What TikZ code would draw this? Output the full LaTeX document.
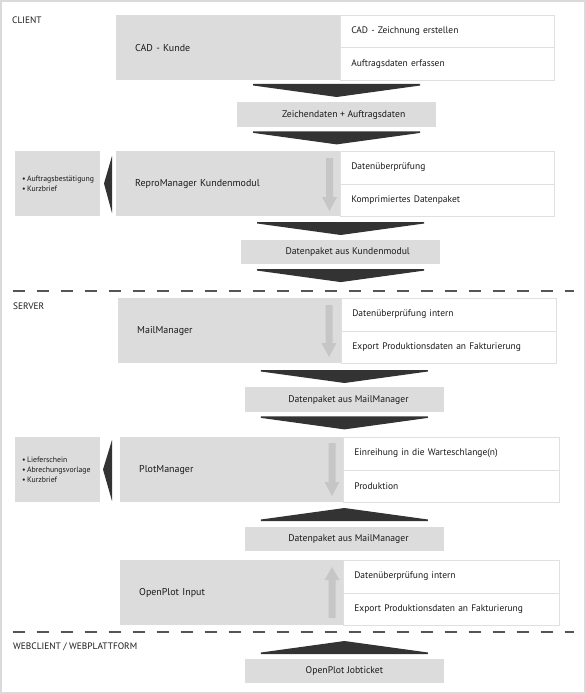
\documentclass[tikz,border=0pt]{standalone}
\usepackage{fontspec}
\setmainfont{PT Sans}
\definecolor{boxgray}{HTML}{DCDCDC}
\definecolor{arrowdark}{HTML}{333333}
\definecolor{palearrow}{HTML}{C6C6C6}
\definecolor{cellborder}{HTML}{E0E0E0}
\definecolor{framecol}{HTML}{DADADA}
\definecolor{dashcol}{HTML}{555555}
\definecolor{textcol}{HTML}{1A1A1A}
\begin{document}
\begin{tikzpicture}[x=1bp,y=-1bp,
  every node/.style={text=textcol},
  bigbox/.style={fill=boxgray, draw=none, anchor=north west, inner ysep=0pt,
    inner xsep=19bp, minimum height=65bp, align=left,
    font=\fontsize{10}{12}\selectfont},
  cell/.style={fill=white, draw=cellborder, line width=0.6bp, anchor=north west,
    inner ysep=0pt, inner xsep=11bp, minimum height=32.5bp, align=left,
    font=\fontsize{9.5}{11}\selectfont},
  midbox/.style={fill=boxgray, draw=none, anchor=north west, inner sep=0pt,
    font=\fontsize{9.7}{11}\selectfont},
  sidebox/.style={fill=boxgray, draw=none, anchor=north west, inner ysep=0pt,
    inner xsep=7bp, minimum height=65bp, text width=71bp, align=left,
    font=\fontsize{7.8}{9.8}\selectfont},
  section/.style={anchor=west, inner sep=0pt, font=\fontsize{9.4}{11}\selectfont},
  sep/.style={draw=dashcol, line width=1.8bp, dash pattern=on 12bp off 12bp},
  darrow/.pic={\fill[arrowdark] (-83.5,-13) -- (83.5,-13) -- (83.5,-11.5) -- (0,0) -- (-83.5,-11.5) -- cycle;},
  uarrow/.pic={\fill[arrowdark] (-83.5,13) -- (83.5,13) -- (83.5,11.5) -- (0,0) -- (-83.5,11.5) -- cycle;},
]
\useasboundingbox (0,0) rectangle (586,694);
\draw[framecol, line width=2bp] (1,1) rectangle (585,693);

% ---------------- CLIENT
\node[section] (client) at (12,20) {CLIENT};
\node[bigbox, text width=186bp] (cad) at (116,15) {CAD - Kunde};
\node[cell, text width=192bp] (cad1) at (340,15) {CAD - Zeichnung erstellen};
\node[cell, text width=192bp] (cad2) at (340,47.5) {Auftragsdaten erfassen};

\node[midbox, minimum width=199bp, minimum height=25bp] (zd) at (237,102) {\hspace*{14bp}Zeichendaten + Auftragsdaten};
\path (zd.north) ++(0,-5) pic {darrow};
\path (zd.south) ++(0,17) pic {darrow};

\node[sidebox] (lb1) at (15,151) {\textbullet\,Auftragsbestätigung\\\textbullet\,Kurzbrief};
\fill[arrowdark] (104,183.5) -- (112,156) -- (112,213) -- cycle;
\node[bigbox, text width=186bp] (repro) at (116,151) {ReproManager Kundenmodul};
\node[cell, text width=192bp] (repro1) at (340,151) {Datenüberprüfung};
\node[cell, text width=192bp] (repro2) at (340,183.5) {Komprimiertes Datenpaket};
\fill[palearrow] (326,158) -- (333,158) -- (333,197) -- (337,197) -- (329.5,211) -- (322,197) -- (326,197) -- cycle;

\node[midbox, minimum width=199bp, minimum height=24bp] (dk) at (241,240) {\hspace*{14bp}Datenpaket aus Kundenmodul};
\path (dk.north) ++(0,-5) pic {darrow};
\path (dk.south) ++(0,17.7) pic {darrow};

\draw[sep] (12.7,291) -- (574,291);

% ---------------- SERVER
\node[section] (server) at (13,306) {SERVER};
\node[bigbox, text width=185bp] (mail) at (118,298) {MailManager};
\node[cell, text width=193bp] (mail1) at (341,298) {Datenüberprüfung intern};
\node[cell, text width=193bp] (mail2) at (341,330.5) {Export Produktionsdaten an Fakturierung};
\fill[palearrow] (325.5,305) -- (332.5,305) -- (332.5,343) -- (336.5,343) -- (329,357) -- (321.5,343) -- (325.5,343) -- cycle;

\node[midbox, minimum width=198.5bp, minimum height=25bp] (dm1) at (245,387) {\hspace*{8bp}Datenpaket aus MailManager};
\path (dm1.north) ++(0,-4) pic {darrow};
\path (dm1.south) ++(0,17) pic {darrow};

\node[sidebox] (lb2) at (15,437) {\textbullet\,Lieferschein\\\textbullet\,Abrechungsvorlage\\\textbullet\,Kurzbrief};
\fill[arrowdark] (103,469.5) -- (112,440) -- (112,501) -- cycle;
\node[bigbox, text width=185bp] (plot) at (120,437) {PlotManager};
\node[cell, text width=194bp] (plot1) at (343,437) {Einreihung in die Warteschlange(n)};
\node[cell, text width=194bp] (plot2) at (343,469.5) {Produktion};
\fill[palearrow] (328.5,443) -- (335.5,443) -- (335.5,482) -- (339.5,482) -- (332,496) -- (324.5,482) -- (328.5,482) -- cycle;

\node[midbox, minimum width=198.5bp, minimum height=24bp] (dm2) at (245,527) {\hspace*{8bp}Datenpaket aus MailManager};
\path (dm2.north) ++(0,-19) pic {uarrow};

\node[bigbox, text width=185bp] (open) at (120,560) {OpenPlot Input};
\node[cell, text width=194bp] (open1) at (343,560) {Datenüberprüfung intern};
\node[cell, text width=194bp] (open2) at (343,592.5) {Export Produktionsdaten an Fakturierung};
\fill[palearrow] (328.5,618) -- (335.5,618) -- (335.5,580) -- (339.5,580) -- (332,567) -- (324.5,580) -- (328.5,580) -- cycle;

\draw[sep] (12.7,632) -- (574,632);

% ---------------- WEBCLIENT
\node[section] (web) at (13,647) {WEBCLIENT / WEBPLATTFORM};
\node[midbox, minimum width=198.5bp, minimum height=24bp] (job) at (245,659) {OpenPlot Jobticket};
\path (job.north) ++(0,-18) pic {uarrow};
\end{tikzpicture}
\end{document}
